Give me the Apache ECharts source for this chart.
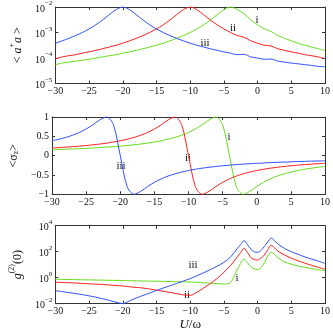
<!DOCTYPE html>
<html><head><meta charset="utf-8">
<script src="https://cdn.jsdelivr.net/npm/echarts@6/dist/echarts.min.js"></script>
<style>html,body{margin:0;padding:0;background:#fff}#c{width:333px;height:336px}</style>
</head><body><div id="c"></div>
<script>
// x grid (U/omega) for panels 1 and 2
const U12 = [-30,-29,-28,-27,-26,-25,-24,-23,-22,-21,-20,-19,-18,-17,-16,-15,-14,-13,-12,-11,-10,-9,-8,-7,-6,-5,-4,-3,-2,-1,0,1,2,3,4,5,6,7,8,9,10];
// panel 1: <a+a>
const occI   = [5.5e-5,6.3e-5,6.9e-5,7.5e-5,8.1e-5,8.9e-5,1.0e-4,1.1e-4,1.23e-4,1.35e-4,1.55e-4,1.74e-4,2.0e-4,2.3e-4,2.7e-4,3.16e-4,3.8e-4,4.7e-4,5.9e-4,7.6e-4,1.0e-3,1.38e-3,2.0e-3,3.1e-3,5.0e-3,7.9e-3,1.0e-2,7.9e-3,5.5e-3,3.1e-3,2.0e-3,1.38e-3,1.1e-3,7.6e-4,5.9e-4,4.7e-4,3.8e-4,3.16e-4,2.7e-4,2.3e-4,2.0e-4];
const occII  = [9.3e-5,1.1e-4,1.23e-4,1.35e-4,1.55e-4,1.74e-4,2.0e-4,2.3e-4,2.7e-4,3.16e-4,3.8e-4,4.7e-4,5.9e-4,7.6e-4,1.0e-3,1.38e-3,2.0e-3,3.1e-3,5.0e-3,7.9e-3,1.0e-2,7.9e-3,5.0e-3,3.1e-3,2.0e-3,1.38e-3,1.0e-3,7.6e-4,6.5e-4,4.7e-4,3.8e-4,3.16e-4,2.95e-4,2.3e-4,2.0e-4,1.74e-4,1.55e-4,1.35e-4,1.23e-4,1.1e-4,9.5e-5];
const occIII = [3.8e-4,4.7e-4,5.9e-4,7.6e-4,1.0e-3,1.38e-3,2.0e-3,3.1e-3,5.0e-3,7.9e-3,1.0e-2,7.9e-3,5.0e-3,3.1e-3,2.0e-3,1.38e-3,1.0e-3,7.6e-4,5.9e-4,4.7e-4,3.8e-4,3.16e-4,2.7e-4,2.3e-4,2.0e-4,1.74e-4,1.55e-4,1.35e-4,1.4e-4,1.1e-4,1.0e-4,8.9e-5,9.1e-5,7.6e-5,6.9e-5,6.3e-5,5.9e-5,5.5e-5,5.1e-5,4.7e-5,4.5e-5];
// panel 2: <sigma_z>
const szI   = [0.153,0.159,0.166,0.173,0.18,0.189,0.198,0.208,0.22,0.232,0.246,0.262,0.28,0.301,0.324,0.352,0.385,0.424,0.471,0.528,0.6,0.69,0.8,0.923,1.0,0.8,0,-0.8,-1.0,-0.923,-0.8,-0.69,-0.6,-0.528,-0.471,-0.424,-0.385,-0.352,-0.324,-0.301,-0.28];
const szII  = [0.198,0.208,0.22,0.232,0.246,0.262,0.28,0.301,0.324,0.352,0.385,0.424,0.471,0.528,0.6,0.69,0.8,0.923,1.0,0.8,0,-0.8,-1.0,-0.923,-0.8,-0.69,-0.6,-0.528,-0.471,-0.424,-0.385,-0.352,-0.324,-0.301,-0.28,-0.262,-0.246,-0.232,-0.22,-0.208,-0.198];
const szIII = [0.385,0.424,0.471,0.528,0.6,0.69,0.8,0.923,1.0,0.8,0,-0.8,-1.0,-0.923,-0.8,-0.69,-0.6,-0.528,-0.471,-0.424,-0.385,-0.352,-0.324,-0.301,-0.28,-0.262,-0.246,-0.232,-0.22,-0.208,-0.198,-0.189,-0.18,-0.173,-0.166,-0.159,-0.153,-0.147,-0.142,-0.137,-0.133];
// panel 3: g2(0)
const U3 = [-30,-29,-28,-27,-26,-25,-24,-23,-22,-21,-20,-19,-18,-17,-16,-15,-14,-13,-12,-11,-10,-9,-8,-7,-6,-5,-4,-3,-2.5,-2,-1.5,-1,-0.5,0,0.5,1,1.5,2,2.5,3,4,5,6,7,8,9,10];
const g2I   = [0.76,0.74,0.72,0.71,0.69,0.68,0.66,0.65,0.63,0.62,0.60,0.59,0.575,0.56,0.55,0.54,0.52,0.51,0.49,0.48,0.46,0.44,0.41,0.38,0.35,0.33,0.42,4.5,12.6,28,14,7.1,4.8,4.2,6.0,14,45,89,63,35,16,11,7.9,6.3,5.0,4.2,3.5];
const g2II  = [0.45,0.43,0.41,0.39,0.36,0.34,0.32,0.30,0.275,0.25,0.23,0.20,0.18,0.16,0.135,0.11,0.091,0.074,0.059,0.047,0.044,0.076,0.16,0.35,0.89,2.6,8.9,40,89,180,89,35,25,23,32,56,141,316,200,112,56,32,20,13.2,8.9,6.3,4.5];
const g2III = [0.1,0.085,0.072,0.060,0.050,0.040,0.032,0.024,0.018,0.013,0.0102,0.0166,0.027,0.043,0.066,0.105,0.16,0.24,0.36,0.56,0.85,1.41,2.4,4.2,7.6,15,40,178,355,710,355,158,100,89,126,251,560,1120,710,400,178,100,63,40,27,19,12.6];
const xTicks = {min:-30, max:10, step:5};

const FONT = '"Liberation Serif", "DejaVu Serif", serif';
const C_I = '#66dd1a', C_II = '#ff1f1f', C_III = '#2f50ff';
const frame = '#333';
const grids = [
  {left:36, top:6, width:290, height:77.5},
  {left:36, top:117, width:290, height:77.3},
  {left:36, top:225.7, width:290, height:78}
];
const minus = s => String(s).replace('-', '\u2212');
const supRich = {
  b:{fontSize:10, fontFamily:FONT, color:'#111', lineHeight:14, verticalAlign:'bottom'},
  s:{fontSize:7, fontFamily:FONT, color:'#111', verticalAlign:'top', lineHeight:14}
};
const logFmt = v => { const e = Math.round(Math.log10(v)); return '{b|10}{s|' + minus(e) + '}'; };

const xAxes = [], yAxes = [];
grids.forEach((g, i) => {
  xAxes.push({type:'value', gridIndex:i, min:xTicks.min, max:xTicks.max, interval:xTicks.step, position:'bottom',
    axisLine:{onZero:false, lineStyle:{color:frame, width:1}}, axisTick:{inside:true, length:3, lineStyle:{color:frame}},
    axisLabel:{fontFamily:FONT, fontSize:10, color:'#111', margin:3, formatter:v=>minus(v)}, splitLine:{show:false},
    name: i===2 ? '{it|U}/\u03c9' : '', nameLocation:'middle', nameGap:10,
    nameTextStyle:{fontFamily:FONT, fontSize:13, color:'#111', rich:{it:{fontFamily:FONT, fontSize:13, fontStyle:'italic', color:'#111'}}}});
  xAxes.push({type:'value', gridIndex:i, min:xTicks.min, max:xTicks.max, interval:xTicks.step, position:'top',
    axisLine:{onZero:false, lineStyle:{color:frame, width:1}}, axisTick:{inside:true, length:3, lineStyle:{color:frame}},
    axisLabel:{show:false}, splitLine:{show:false}});
});
const yNameStyle = {fontFamily:FONT, fontSize:12, color:'#111', rich:{
  n:{fontFamily:FONT, fontSize:12, color:'#111', lineHeight:16, verticalAlign:'bottom'},
  it:{fontFamily:FONT, fontSize:12, fontStyle:'italic', color:'#111', lineHeight:16, verticalAlign:'bottom'},
  sup:{fontFamily:FONT, fontSize:8, color:'#111', lineHeight:16, verticalAlign:'top'},
  sub:{fontFamily:FONT, fontSize:8, color:'#111', lineHeight:16, verticalAlign:'bottom'}
}};
const yCfg = [
  {type:'log', logBase:10, min:1e-5, max:1e-2, fmt:logFmt, rich:supRich, name:'{n|< }{it|a}{sup|+}{it|a}{n| >}'},
  {type:'value', min:-1, max:1, interval:0.5, fmt:v=>minus(v), rich:null, name:'{n|<\u03c3}{sub|z}{n|>}'},
  {type:'log', logBase:100, min:1e-2, max:1e4, fmt:logFmt, rich:supRich, name:'{it|g}{sup|(2)}{n|(0)}'}
];
yCfg.forEach((c, i) => {
  const base = {type:c.type, gridIndex:i, min:c.min, max:c.max, splitLine:{show:false}, minorTick:{show:false},
    axisLine:{show:true, onZero:false, lineStyle:{color:frame, width:1}}, axisTick:{show:true, inside:true, length:3, lineStyle:{color:frame}}};
  if (c.type==='log') base.logBase = c.logBase; else base.interval = c.interval;
  const left = Object.assign({}, base, {position:'left',
    axisLabel:{fontFamily:FONT, fontSize:10, color:'#111', margin:3, formatter:c.fmt, rich:c.rich||undefined},
    name:c.name, nameLocation:'middle', nameGap:17, nameTextStyle:yNameStyle});
  const right = Object.assign({}, base, {position:'right', axisLabel:{show:false}});
  yAxes.push(left, right);
});

function mk(xs, ys, color, gi) {
  return {type:'line', xAxisIndex:gi*2, yAxisIndex:gi*2, data:xs.map((u,k)=>[u, ys[k]]),
    showSymbol:false, smooth:0.3, lineStyle:{color, width:1}, itemStyle:{color}, silent:true};
}
const series = [
  mk(U12, occI, C_I, 0), mk(U12, occII, C_II, 0), mk(U12, occIII, C_III, 0),
  mk(U12, szI, C_I, 1), mk(U12, szII, C_II, 1), mk(U12, szIII, C_III, 1),
  mk(U3, g2I, C_I, 2), mk(U3, g2II, C_II, 2), mk(U3, g2III, C_III, 2)
];
const lab = (t, x, y) => ({type:'text', x, y, silent:true, style:{text:t, font:'11px ' + FONT, fill:'#111', align:'center', verticalAlign:'middle', textAlign:'center', textVerticalAlign:'middle'}});
const chart = echarts.init(document.getElementById('c'), null, {renderer:'canvas'});
chart.setOption({
  animation:false, backgroundColor:'#fff',
  grid:grids, xAxis:xAxes, yAxis:yAxes, series,
  graphic:[lab('i',257,20), lab('ii',233,28), lab('iii',205,43),
           lab('i',229,137), lab('ii',188,158), lab('iii',121,166),
           lab('iii',193,265), lab('i',237,278), lab('ii',187,295)]
});
</script></body></html>
